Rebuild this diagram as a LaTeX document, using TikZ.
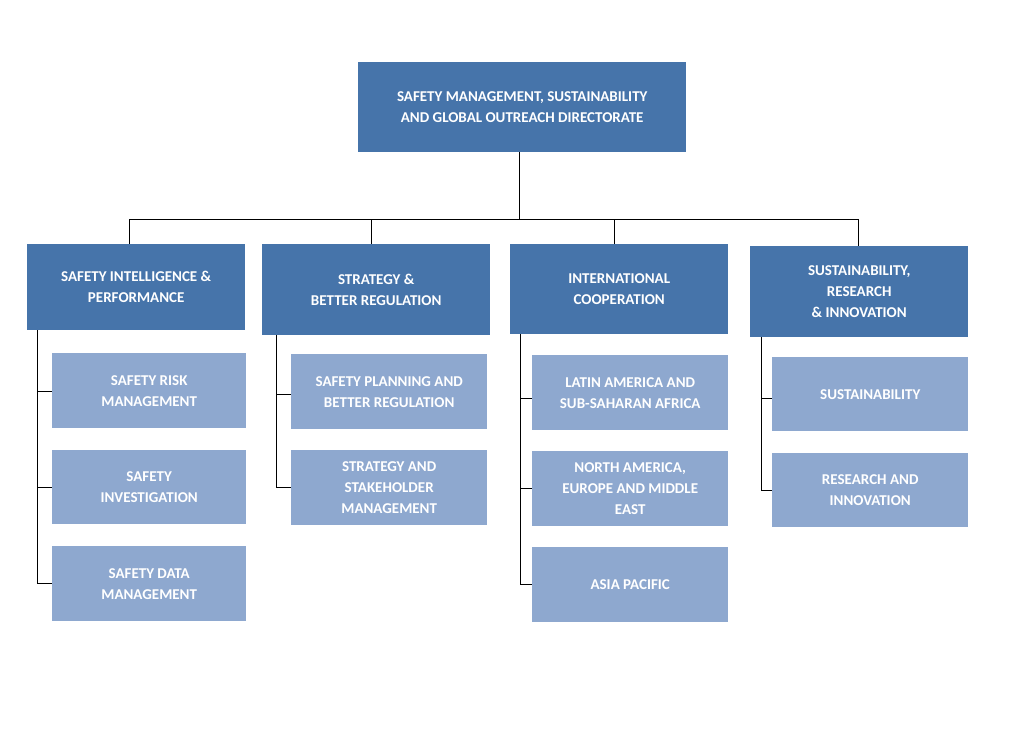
\documentclass[tikz,border=0pt]{standalone}
\usepackage{fontspec}
\setmainfont{Carlito}
\definecolor{darkbox}{HTML}{4674AA}
\definecolor{lightbox}{HTML}{8EA8CF}
\tikzset{
  box/.style={anchor=north west, inner sep=0pt, text=white, align=center,
    font=\bfseries\fontsize{15}{21}\selectfont},
  head/.style={box, fill=darkbox},
  unit/.style={box, fill=lightbox},
  link/.style={draw=black, line width=0.8pt}
}
\newcommand{\orgbox}[7]{% style, name, x1, y1, x2, y2, text
  \node[#1, minimum width={(#5-#3)*1pt}, minimum height={(#6-#4)*1pt}] (#2) at (#3pt,-#4pt) {#7};}
\begin{document}
\begin{tikzpicture}[x=1pt,y=1pt]
\useasboundingbox (0,0) rectangle (1024,-739);

\orgbox{head}{top}{358}{62}{686}{152}{SAFETY MANAGEMENT, SUSTAINABILITY\\AND GLOBAL OUTREACH DIRECTORATE}

\orgbox{head}{intel}{27}{244}{245}{330}{SAFETY INTELLIGENCE \&\\PERFORMANCE}
\orgbox{head}{strat}{262}{244}{490}{335}{STRATEGY \&\\BETTER REGULATION}
\orgbox{head}{coop}{510}{244}{728}{334}{INTERNATIONAL\\COOPERATION}
\orgbox{head}{sust}{750}{246}{968}{337}{SUSTAINABILITY,\\RESEARCH\\\& INNOVATION}

\orgbox{unit}{risk}{52}{353}{246}{428}{SAFETY RISK\\MANAGEMENT}
\orgbox{unit}{invest}{52}{450}{246}{524}{SAFETY\\INVESTIGATION}
\orgbox{unit}{data}{52}{546}{246}{621}{SAFETY DATA\\MANAGEMENT}

\orgbox{unit}{plan}{291}{354}{487}{429}{SAFETY PLANNING AND\\BETTER REGULATION}
\orgbox{unit}{stake}{291}{450}{487}{525}{STRATEGY AND\\STAKEHOLDER\\MANAGEMENT}

\orgbox{unit}{latam}{532}{355}{728}{430}{LATIN AMERICA AND\\SUB-SAHARAN AFRICA}
\orgbox{unit}{name}{532}{451}{728}{526}{NORTH AMERICA,\\EUROPE AND MIDDLE\\EAST}
\orgbox{unit}{apac}{532}{547}{728}{622}{ASIA PACIFIC}

\orgbox{unit}{susta}{772}{357}{968}{431}{SUSTAINABILITY}
\orgbox{unit}{resin}{772}{453}{968}{527}{RESEARCH AND\\INNOVATION}

% bus
\coordinate (bus) at (519,-219);
\draw[link] (top.south -| bus) -- (bus);
\draw[link] (129,-219) -- (858,-219);
\foreach \n/\x in {intel/129, strat/371, coop/614, sust/858}
  \draw[link] (\x,-219) -- (\n.north -| {(\x,0)});

% spines
\draw[link] (37,-330) |- (data.west);
\draw[link] (37,-391) -- (risk.west |- {(0,-391)});
\draw[link] (37,-487) -- (invest.west |- {(0,-487)});

\draw[link] (276,-335) |- (stake.west);
\draw[link] (276,-394) -- (plan.west |- {(0,-394)});

\draw[link] (520,-334) |- (apac.west);
\draw[link] (520,-398) -- (latam.west |- {(0,-398)});
\draw[link] (520,-488) -- (name.west |- {(0,-488)});

\draw[link] (761,-337) |- (resin.west);
\draw[link] (761,-398) -- (susta.west |- {(0,-398)});
\end{tikzpicture}
\end{document}
